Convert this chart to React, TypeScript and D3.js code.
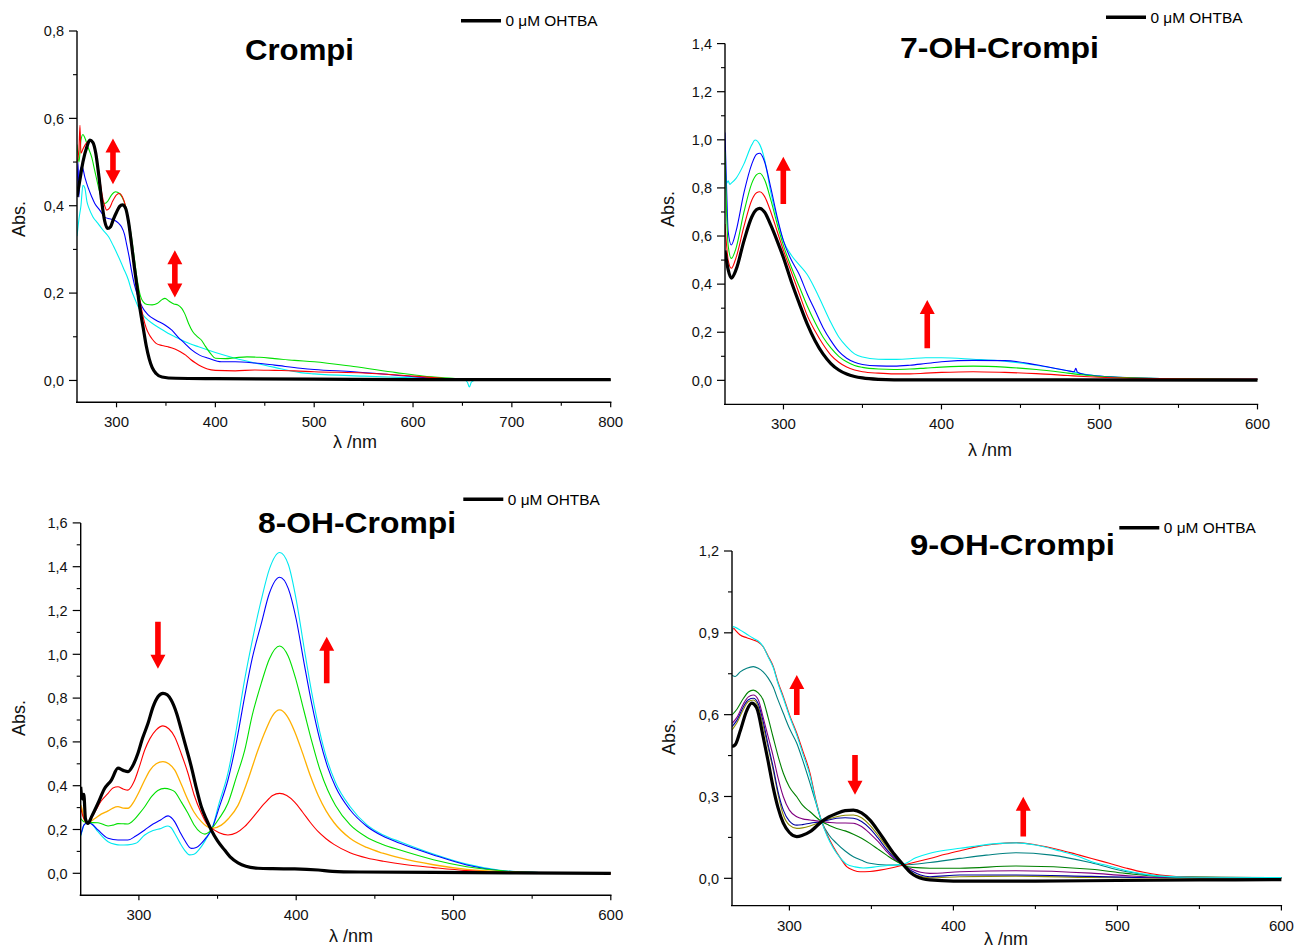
import React from "react";
import * as d3 from "d3";

type Pt = [number, number];

// ---------------- Crompi (panel a) ----------------
const crompiBlack: Pt[] = [[260,0.42],[263,0.46],[266,0.5],[270,0.535],[273,0.55],[276,0.545],[279,0.52],[282,0.47],[285,0.41],[288,0.365],[291,0.348],[294,0.352],[297,0.37],[300,0.385],[303,0.398],[306,0.402],[309,0.395],[312,0.365],[315,0.315],[318,0.26],[321,0.21],[324,0.16],[327,0.12],[330,0.08],[333,0.05],[336,0.03],[340,0.016],[346,0.008],[360,0.005],[400,0.004],[500,0.003],[600,0.002],[700,0.002],[800,0.002]];
const crompiRed: Pt[] = [[260,0.5],[262,0.53],[263,0.584],[264,0.52],[266,0.53],[270,0.545],[273,0.55],[276,0.545],[279,0.52],[282,0.48],[285,0.43],[288,0.4],[290,0.39],[293,0.395],[296,0.41],[300,0.425],[303,0.428],[306,0.42],[309,0.4],[312,0.36],[315,0.31],[318,0.26],[321,0.22],[324,0.18],[327,0.145],[330,0.12],[333,0.105],[336,0.095],[340,0.085],[346,0.08],[352,0.077],[359,0.072],[365,0.065],[370,0.058],[375,0.048],[380,0.04],[386,0.032],[392,0.026],[400,0.023],[420,0.022],[440,0.024],[460,0.023],[480,0.022],[500,0.02],[550,0.017],[600,0.01],[630,0.005],[650,0.002],[700,0.001],[800,0.001]];
const crompiGreen: Pt[] = [[260,0.54],[262,0.5],[264,0.55],[266,0.563],[268,0.555],[271,0.535],[275,0.51],[278,0.48],[282,0.44],[285,0.415],[288,0.405],[291,0.41],[295,0.425],[299,0.432],[303,0.428],[306,0.418],[309,0.4],[312,0.37],[315,0.33],[318,0.28],[321,0.23],[324,0.195],[327,0.18],[331,0.174],[336,0.173],[341,0.176],[346,0.185],[349,0.188],[353,0.182],[358,0.175],[362,0.173],[366,0.165],[369,0.153],[373,0.13],[377,0.112],[382,0.1],[386,0.092],[390,0.078],[395,0.062],[400,0.051],[410,0.05],[420,0.052],[432,0.054],[445,0.053],[460,0.05],[480,0.046],[500,0.043],[540,0.032],[583,0.018],[610,0.01],[640,0.005],[660,0.002],[700,0.001],[800,0.001]];
const crompiBlue: Pt[] = [[260,0.44],[261,0.5],[262,0.42],[263,0.48],[265,0.49],[268,0.465],[271,0.443],[275,0.42],[278,0.405],[283,0.39],[288,0.374],[293,0.37],[298,0.367],[302,0.36],[305,0.352],[308,0.335],[310,0.314],[313,0.28],[315,0.253],[318,0.22],[322,0.19],[326,0.168],[332,0.15],[340,0.138],[349,0.127],[356,0.115],[362,0.1],[369,0.085],[376,0.07],[384,0.058],[393,0.051],[406,0.043],[420,0.043],[440,0.04],[460,0.035],[486,0.028],[500,0.025],[540,0.02],[583,0.012],[620,0.005],[650,0.001],[800,0.001]];
const crompiCyan: Pt[] = [[260,0.33],[262,0.37],[264,0.4],[266,0.447],[268,0.44],[270,0.41],[272,0.395],[276,0.375],[281,0.36],[286,0.345],[292,0.329],[297,0.307],[302,0.283],[307,0.257],[312,0.23],[315,0.207],[319,0.184],[322,0.168],[326,0.152],[330,0.142],[336,0.131],[345,0.118],[352,0.108],[359,0.1],[370,0.088],[383,0.077],[400,0.064],[420,0.051],[440,0.04],[460,0.03],[486,0.018],[500,0.015],[550,0.01],[600,0.006],[640,0.002],[652,0.001],[655,-0.004],[657,-0.015],[659,-0.004],[662,0],[700,0],[800,0]];

// ---------------- 7-OH-Crompi (panel b) ----------------
const oh7Black: Pt[] = [[263,0.54],[265,0.46],[267,0.425],[270,0.46],[275,0.58],[280,0.68],[283,0.71],[285,0.715],[288,0.7],[292,0.645],[296,0.58],[300,0.51],[305,0.41],[310,0.32],[315,0.235],[320,0.165],[325,0.11],[330,0.07],[335,0.043],[340,0.026],[345,0.016],[350,0.01],[360,0.004],[370,0.002],[450,0.002],[600,0.001]];
const oh7Red: Pt[] = [[263,0.65],[265,0.5],[267,0.466],[270,0.51],[275,0.64],[280,0.75],[283,0.78],[285,0.784],[288,0.765],[292,0.7],[296,0.62],[300,0.54],[305,0.45],[310,0.36],[315,0.27],[320,0.205],[325,0.15],[330,0.105],[335,0.075],[340,0.055],[345,0.043],[350,0.036],[360,0.03],[370,0.027],[380,0.027],[390,0.03],[400,0.033],[420,0.036],[440,0.033],[460,0.028],[480,0.02],[490,0.016],[500,0.013],[520,0.009],[550,0.006],[600,0.005]];
const oh7Green: Pt[] = [[263,0.95],[264,0.7],[265,0.56],[267,0.507],[270,0.55],[275,0.7],[280,0.82],[283,0.855],[285,0.861],[288,0.835],[292,0.75],[296,0.65],[300,0.56],[305,0.47],[310,0.39],[315,0.31],[320,0.24],[325,0.18],[330,0.135],[335,0.1],[340,0.077],[345,0.062],[350,0.054],[360,0.047],[370,0.045],[380,0.047],[390,0.051],[400,0.055],[420,0.059],[440,0.055],[460,0.045],[480,0.03],[490,0.022],[500,0.016],[520,0.011],[550,0.007],[600,0.004]];
const oh7Blue: Pt[] = [[263,1.03],[264,0.8],[265,0.62],[267,0.563],[270,0.62],[275,0.78],[280,0.9],[283,0.94],[285,0.944],[288,0.91],[292,0.8],[296,0.68],[300,0.58],[305,0.5],[310,0.44],[315,0.36],[320,0.29],[325,0.22],[330,0.165],[335,0.12],[340,0.092],[345,0.075],[350,0.066],[360,0.06],[370,0.059],[380,0.063],[390,0.07],[400,0.077],[420,0.083],[440,0.082],[460,0.065],[480,0.04],[484,0.036],[485,0.05],[486,0.034],[490,0.025],[500,0.018],[520,0.011],[550,0.007],[600,0.005]];
const oh7Cyan: Pt[] = [[263,0.9],[264,0.82],[265,0.83],[266,0.815],[267,0.82],[270,0.84],[275,0.9],[280,0.98],[282,0.999],[285,0.98],[288,0.92],[292,0.78],[296,0.67],[300,0.58],[305,0.52],[310,0.48],[315,0.44],[320,0.38],[325,0.31],[330,0.24],[335,0.18],[340,0.14],[345,0.11],[350,0.097],[360,0.088],[370,0.087],[380,0.09],[390,0.094],[400,0.094],[420,0.088],[440,0.08],[460,0.063],[480,0.04],[490,0.026],[500,0.018],[520,0.011],[550,0.007],[600,0.005]];

// ---------------- 8-OH-Crompi (panel c) ----------------
const oh8Black: Pt[] = [[263,0.395],[264,0.34],[265,0.36],[266,0.25],[267.6,0.228],[270,0.26],[274,0.32],[278,0.385],[282.5,0.426],[286.7,0.48],[290,0.47],[293,0.464],[296,0.49],[299.4,0.548],[302,0.61],[305.8,0.685],[309,0.76],[312.1,0.806],[315.3,0.822],[318,0.815],[320.6,0.79],[324,0.73],[327,0.654],[330,0.575],[333.3,0.487],[336.5,0.39],[339.7,0.304],[343,0.245],[346,0.198],[350,0.148],[354.5,0.106],[358,0.075],[363,0.048],[368,0.032],[375.7,0.023],[385,0.021],[399,0.02],[414,0.015],[423,0.009],[440,0.006],[487,0.004],[540,0.002],[600,0]];
const oh8Red: Pt[] = [[263,0.3],[264,0.27],[265,0.25],[267.6,0.23],[272,0.28],[276,0.33],[280.4,0.365],[283.5,0.39],[286.7,0.395],[290,0.385],[293,0.38],[297,0.42],[300,0.48],[303.7,0.563],[307,0.615],[311,0.655],[315.3,0.673],[319,0.66],[322.7,0.624],[327,0.545],[331.2,0.457],[335,0.36],[339.7,0.274],[343,0.228],[346.5,0.205],[351,0.185],[356.6,0.175],[362,0.185],[367.2,0.213],[373,0.26],[380,0.32],[385,0.355],[389.5,0.365],[394,0.355],[399,0.325],[404,0.28],[409,0.232],[414,0.19],[419,0.158],[424,0.132],[434.2,0.094],[445,0.07],[455.4,0.055],[470,0.039],[487.2,0.026],[508.4,0.012],[529.6,0.004],[560,0.001],[600,0]];
const oh8Orange: Pt[] = [[263,0.312],[264,0.29],[265,0.25],[266,0.235],[267.6,0.232],[272,0.25],[276,0.27],[280.4,0.285],[283.5,0.298],[286.7,0.304],[290,0.298],[293,0.297],[297,0.33],[300,0.37],[303.7,0.426],[307,0.47],[311,0.5],[315.3,0.51],[319,0.5],[322.7,0.472],[327,0.405],[331.2,0.335],[335,0.28],[339.7,0.236],[343,0.215],[346.5,0.205],[352.4,0.22],[357,0.25],[363,0.31],[369,0.42],[375.7,0.563],[381,0.66],[385,0.72],[389.5,0.746],[394,0.72],[399,0.648],[404,0.55],[409,0.445],[414,0.355],[419,0.285],[424,0.232],[434.2,0.16],[444.8,0.118],[455,0.092],[466,0.07],[487.2,0.039],[508.4,0.018],[529.6,0.008],[560,0.002],[600,0]];
const oh8Green: Pt[] = [[263,0.25],[265,0.235],[267.6,0.232],[274,0.231],[280.4,0.216],[283.5,0.22],[286.7,0.227],[290,0.226],[293,0.225],[297,0.245],[300,0.27],[303.7,0.304],[308,0.35],[312,0.378],[316.4,0.388],[320,0.383],[322.7,0.373],[327,0.325],[331.2,0.274],[335,0.222],[339,0.188],[342,0.179],[344.5,0.188],[346.5,0.205],[351,0.25],[356.6,0.32],[362,0.44],[367.2,0.56],[372,0.72],[377.8,0.868],[383,0.98],[389.5,1.038],[395,0.99],[400,0.88],[405,0.74],[410,0.6],[415,0.475],[420,0.38],[425,0.31],[434.2,0.222],[444.8,0.165],[455,0.132],[466,0.106],[487.2,0.062],[508.4,0.03],[529.6,0.012],[550,0.004],[600,0]];
const oh8Blue: Pt[] = [[263,0.175],[264,0.2],[265,0.22],[267.6,0.232],[270,0.225],[274,0.198],[280.4,0.16],[286.7,0.152],[293,0.152],[298,0.17],[303.7,0.198],[309,0.225],[314,0.245],[318.5,0.262],[320.5,0.255],[322.7,0.236],[326,0.19],[329,0.152],[333.3,0.114],[336.5,0.118],[339.7,0.137],[343,0.165],[346.5,0.205],[351,0.3],[356.6,0.426],[362,0.6],[367.2,0.806],[372,0.98],[377.8,1.14],[383,1.28],[389.5,1.352],[395,1.3],[400,1.16],[405,0.96],[410,0.77],[415,0.61],[420,0.485],[425,0.395],[434.2,0.29],[444.8,0.215],[455,0.17],[466,0.137],[487.2,0.084],[508.4,0.038],[529.6,0.012],[550,0.004],[600,0]];
const oh8Cyan: Pt[] = [[263,0.17],[264,0.195],[265,0.22],[267.6,0.232],[270,0.225],[274,0.19],[280.4,0.144],[285,0.132],[288,0.129],[293,0.13],[298,0.137],[303.7,0.175],[309,0.195],[314,0.205],[318.5,0.216],[320.5,0.208],[322.7,0.183],[326,0.14],[329,0.106],[332.2,0.084],[335,0.087],[339.7,0.122],[343,0.16],[346.5,0.205],[351,0.32],[356.6,0.457],[362,0.66],[367.2,0.883],[372,1.06],[377.8,1.248],[383,1.39],[389.5,1.465],[395,1.41],[400,1.25],[405,1.03],[410,0.82],[415,0.645],[420,0.51],[425,0.415],[434.2,0.305],[444.8,0.222],[455,0.176],[466,0.144],[487.2,0.088],[508.4,0.042],[529.6,0.014],[550,0.004],[600,0]];

// ---------------- 9-OH-Crompi (panel d) ----------------
const oh9Black: Pt[] = [[265,0.483],[267,0.49],[270,0.54],[274,0.615],[277,0.642],[280,0.625],[284,0.519],[287,0.43],[290,0.336],[293,0.26],[296.3,0.202],[300,0.168],[304.5,0.153],[308,0.158],[312.6,0.171],[319.7,0.208],[324,0.225],[328.8,0.238],[334,0.248],[339,0.25],[344,0.24],[349,0.214],[354,0.175],[359.3,0.128],[364,0.088],[369.5,0.049],[374,0.02],[377.6,0.006],[385.7,-0.006],[400,-0.01],[450,-0.01],[500,-0.008],[550,-0.006],[600,-0.005]];
const oh9Olive: Pt[] = [[265,0.544],[268,0.57],[272,0.62],[275,0.648],[278,0.654],[281,0.63],[284,0.56],[287,0.48],[290,0.4],[293,0.31],[296.3,0.232],[300,0.195],[304.5,0.183],[308,0.185],[312.6,0.192],[319.7,0.208],[324,0.218],[328.8,0.226],[334,0.231],[339,0.232],[344,0.222],[349,0.195],[354,0.158],[359.3,0.116],[364,0.08],[369.5,0.049],[374,0.024],[378,0.01],[385.7,0.002],[404,0.006],[438,0.008],[484,0.003],[520,0.001],[600,0]];
const oh9Navy: Pt[] = [[265,0.556],[268,0.58],[272,0.63],[275,0.655],[278,0.66],[281,0.64],[284,0.575],[287,0.49],[290,0.41],[293,0.32],[296.3,0.25],[300,0.21],[304.5,0.195],[308,0.197],[312.6,0.202],[319.7,0.208],[324,0.214],[328.8,0.22],[334,0.222],[339,0.22],[344,0.208],[349,0.183],[354,0.148],[359.3,0.106],[364,0.075],[369.5,0.049],[375,0.026],[380,0.012],[385.7,0.006],[404,0.012],[438,0.012],[484,0.007],[520,0.003],[600,0.002]];
const oh9Purple: Pt[] = [[265,0.568],[268,0.59],[272,0.64],[275,0.665],[278,0.672],[281,0.655],[284,0.59],[287,0.52],[290,0.45],[293,0.37],[296.3,0.299],[300,0.25],[304.5,0.226],[308,0.218],[312.6,0.214],[319.7,0.208],[324,0.205],[328.8,0.203],[334,0.203],[339,0.202],[344,0.19],[349,0.165],[354,0.135],[359.3,0.098],[364,0.07],[369.5,0.049],[375,0.032],[380,0.022],[385.7,0.018],[404,0.024],[438,0.028],[484,0.019],[505,0.01],[526,0.004],[600,0.002]];
const oh9Green: Pt[] = [[265,0.599],[268,0.62],[272,0.66],[275,0.683],[278,0.69],[281,0.68],[284,0.654],[287,0.59],[290,0.519],[293,0.45],[296.3,0.385],[300,0.335],[304.5,0.299],[308,0.268],[312.6,0.244],[319.7,0.208],[324,0.195],[328.8,0.183],[334,0.174],[339,0.162],[344,0.147],[349,0.128],[354,0.107],[359.3,0.085],[364,0.066],[369.5,0.049],[375,0.04],[385.7,0.037],[404,0.037],[438,0.045],[484,0.033],[505,0.018],[526,0.007],[600,0.002]];
const oh9Teal: Pt[] = [[265,0.745],[267,0.74],[270,0.757],[274,0.77],[278,0.776],[281,0.77],[284,0.757],[287,0.735],[290,0.703],[293,0.655],[296.3,0.605],[300,0.55],[304.5,0.495],[308,0.435],[312.6,0.348],[316,0.28],[319.7,0.208],[324,0.16],[328.8,0.128],[334,0.1],[339,0.079],[344,0.066],[349,0.055],[359,0.049],[369.5,0.049],[385.7,0.058],[404,0.073],[420,0.085],[438,0.094],[460,0.085],[484,0.057],[505,0.025],[526,0.008],[550,0.003],[600,0.002]];
const oh9Red: Pt[] = [[265,0.9],[266,0.917],[267,0.91],[270,0.892],[274,0.882],[278,0.874],[281,0.866],[284,0.849],[287,0.815],[290.2,0.776],[293,0.72],[296.3,0.666],[300,0.6],[304.5,0.532],[308,0.47],[312.6,0.385],[316,0.29],[319.7,0.208],[323,0.16],[326.8,0.116],[331,0.075],[334.9,0.043],[339,0.03],[343.1,0.024],[349,0.025],[355.2,0.03],[362,0.038],[369.5,0.049],[377,0.06],[385.7,0.073],[395,0.088],[406,0.104],[416,0.118],[428,0.127],[438.6,0.131],[450,0.123],[465,0.104],[475,0.088],[484.3,0.073],[495,0.055],[505.7,0.037],[516,0.022],[526,0.012],[546,0.004],[600,0.003]];
const oh9Cyan: Pt[] = [[265,0.9],[265.8,0.923],[267,0.92],[270,0.91],[274,0.895],[278,0.88],[281,0.87],[284,0.85],[287,0.812],[290.2,0.772],[293,0.715],[296.3,0.66],[300,0.595],[304.5,0.525],[308,0.46],[312.6,0.375],[316,0.285],[319.7,0.208],[323,0.155],[326.8,0.11],[331,0.075],[334.9,0.052],[340,0.042],[345,0.038],[350,0.04],[355,0.044],[362,0.048],[369.5,0.052],[377,0.075],[385.7,0.092],[395,0.103],[404,0.11],[416,0.12],[428,0.128],[438,0.13],[450,0.122],[465,0.1],[475,0.083],[484,0.062],[495,0.045],[505.7,0.028],[516,0.016],[526,0.008],[546,0.004],[600,0.003]];

// tick values
const crompiYTicks = [0, 0.2, 0.4, 0.6, 0.8];
const crompiXTicks = [300, 400, 500, 600, 700, 800];
const oh7YTicks = [0, 0.2, 0.4, 0.6, 0.8, 1.0, 1.2, 1.4];
const oh8YTicks = [0, 0.2, 0.4, 0.6, 0.8, 1.0, 1.2, 1.4, 1.6];
const oh9YTicks = [0, 0.3, 0.6, 0.9, 1.2];
const shortXTicks = [300, 400, 500, 600];
const legendLabel = "0 \u03bcM OHTBA";

const FONT = "'Liberation Sans', Arial, Helvetica, sans-serif";

interface SeriesDef { pts: Pt[]; color: string; w: number }
interface ArrowDef { nm: number; top: number; bottom: number; kind: "up" | "down" | "both" }
interface PanelDef {
  id: string;
  left: number; right: number; top: number; bottom: number;
  xDomain: [number, number]; yDomain: [number, number];
  yTicks: number[]; yMinorStep: number; xTicks: number[]; xMinorStep: number;
  series: SeriesDef[];
  title: string; titleX: number; titleY: number; titleLen: number;
  legendX: number; legendY: number;
  absX: number; absY: number;
  lamX: number; lamY: number;
  arrows: ArrowDef[];
}

const panels: PanelDef[] = [
  {
    id: "a", left: 77, right: 610.7, top: 31, bottom: 402.3,
    xDomain: [260, 800], yDomain: [-0.05, 0.8],
    yTicks: crompiYTicks, yMinorStep: 0.1, xTicks: crompiXTicks, xMinorStep: 50,
    series: [
      { pts: crompiCyan, color: "#00f0f0", w: 1.1 },
      { pts: crompiBlue, color: "#0000ff", w: 1.1 },
      { pts: crompiGreen, color: "#00e000", w: 1.1 },
      { pts: crompiRed, color: "#ff0000", w: 1.1 },
      { pts: crompiBlack, color: "#000000", w: 3.2 },
    ],
    title: "Crompi", titleX: 245, titleY: 60, titleLen: 109,
    legendX: 461, legendY: 20.7,
    absX: 19, absY: 219, lamX: 355, lamY: 448,
    arrows: [
      { nm: 296.4, top: 0.554, bottom: 0.449, kind: "both" },
      { nm: 359, top: 0.298, bottom: 0.19, kind: "both" },
    ],
  },
  {
    id: "b", left: 725, right: 1257.5, top: 43.6, bottom: 404.4,
    xDomain: [263, 600], yDomain: [-0.1, 1.4],
    yTicks: oh7YTicks, yMinorStep: 0.1, xTicks: shortXTicks, xMinorStep: 50,
    series: [
      { pts: oh7Cyan, color: "#00f0f0", w: 1.1 },
      { pts: oh7Blue, color: "#0000ff", w: 1.1 },
      { pts: oh7Green, color: "#00e000", w: 1.1 },
      { pts: oh7Red, color: "#ff0000", w: 1.1 },
      { pts: oh7Black, color: "#000000", w: 3.2 },
    ],
    title: "7-OH-Crompi", titleX: 900, titleY: 58, titleLen: 199,
    legendX: 1106, legendY: 17.3,
    absX: 667.5, absY: 209, lamX: 990, lamY: 456,
    arrows: [
      { nm: 299.9, top: 0.93, bottom: 0.733, kind: "up" },
      { nm: 391, top: 0.334, bottom: 0.133, kind: "up" },
    ],
  },
  {
    id: "c", left: 80.7, right: 610.8, top: 522.9, bottom: 895.2,
    xDomain: [263, 600], yDomain: [-0.1, 1.6],
    yTicks: oh8YTicks, yMinorStep: 0.1, xTicks: shortXTicks, xMinorStep: 50,
    series: [
      { pts: oh8Cyan, color: "#00e8f0", w: 1.1 },
      { pts: oh8Blue, color: "#0000ff", w: 1.1 },
      { pts: oh8Green, color: "#00e000", w: 1.1 },
      { pts: oh8Orange, color: "#ffb000", w: 1.3 },
      { pts: oh8Red, color: "#ff0000", w: 1.1 },
      { pts: oh8Black, color: "#000000", w: 3.2 },
    ],
    title: "8-OH-Crompi", titleX: 258, titleY: 533, titleLen: 198,
    legendX: 463.3, legendY: 499.3,
    absX: 19, absY: 718, lamX: 351, lamY: 941.7,
    arrows: [
      { nm: 312.1, top: 1.149, bottom: 0.934, kind: "down" },
      { nm: 419.4, top: 1.08, bottom: 0.868, kind: "up" },
    ],
  },
  {
    id: "d", left: 732, right: 1281.4, top: 551, bottom: 905.6,
    xDomain: [265, 600], yDomain: [-0.1, 1.2],
    yTicks: oh9YTicks, yMinorStep: 0.15, xTicks: shortXTicks, xMinorStep: 50,
    series: [
      { pts: oh9Olive, color: "#8c8c00", w: 1.1 },
      { pts: oh9Navy, color: "#0000a0", w: 1.1 },
      { pts: oh9Purple, color: "#800080", w: 1.1 },
      { pts: oh9Green, color: "#008000", w: 1.1 },
      { pts: oh9Teal, color: "#008080", w: 1.1 },
      { pts: oh9Red, color: "#ff0000", w: 1.1 },
      { pts: oh9Cyan, color: "#00f0f0", w: 1.1 },
      { pts: oh9Black, color: "#000000", w: 3.2 },
    ],
    title: "9-OH-Crompi", titleX: 910, titleY: 555, titleLen: 205,
    legendX: 1119.3, legendY: 527.7,
    absX: 669, absY: 737, lamX: 1006, lamY: 945,
    arrows: [
      { nm: 304.5, top: 0.745, bottom: 0.599, kind: "up" },
      { nm: 340, top: 0.452, bottom: 0.306, kind: "down" },
      { nm: 442.6, top: 0.299, bottom: 0.153, kind: "up" },
    ],
  },
];

const fmt = (v: number) => d3.format(".1f")(v).replace(".", ",");

function arrowPath(cx: number, yTop: number, yBot: number, kind: string): string {
  const hw = 7.5, hl = 14, sw = 2.8;
  const up = kind === "up" || kind === "both";
  const down = kind === "down" || kind === "both";
  const sTop = up ? yTop + hl : yTop;
  const sBot = down ? yBot - hl : yBot;
  const p: [number, number][] = [];
  if (up) { p.push([cx, yTop], [cx + hw, sTop], [cx + sw, sTop]); } else { p.push([cx + sw, yTop]); }
  if (down) { p.push([cx + sw, sBot], [cx + hw, sBot], [cx, yBot], [cx - hw, sBot], [cx - sw, sBot]); } else { p.push([cx + sw, yBot], [cx - sw, yBot]); }
  if (up) { p.push([cx - sw, sTop], [cx - hw, sTop]); } else { p.push([cx - sw, yTop]); }
  return "M" + p.map((q) => q.join(",")).join("L") + "Z";
}

function Panel({ d }: { d: PanelDef }) {
  const x = d3.scaleLinear().domain(d.xDomain).range([d.left, d.right]);
  const y = d3.scaleLinear().domain(d.yDomain).range([d.bottom, d.top]);
  const line = d3.line<Pt>().x((p) => x(p[0])).y((p) => y(p[1])).curve(d3.curveMonotoneX);
  const yMinor = d3.range(0, d.yDomain[1] + 1e-9, d.yMinorStep).filter((v) => !d.yTicks.some((t) => Math.abs(t - v) < 1e-6));
  const xMinor = d3.range(Math.ceil(d.xDomain[0] / d.xMinorStep) * d.xMinorStep, d.xDomain[1] + 1e-9, d.xMinorStep).filter((v) => !d.xTicks.includes(v));
  const clipId = "clip-" + d.id;
  return (
    <g>
      <defs>
        <clipPath id={clipId}>
          <rect x={d.left} y={d.top - 20} width={d.right - d.left + 2} height={d.bottom - d.top + 20} />
        </clipPath>
      </defs>
      <g clipPath={`url(#${clipId})`} fill="none" strokeLinejoin="round">
        {d.series.map((s, i) => (
          <path key={i} d={line(s.pts) || ""} stroke={s.color} strokeWidth={s.w} />
        ))}
      </g>
      {/* axes */}
      <line x1={d.left} x2={d.left} y1={d.top} y2={d.bottom} stroke="#000" strokeWidth={1.4} />
      <line x1={d.left - 1} x2={d.right + 0.7} y1={d.bottom} y2={d.bottom} stroke="#000" strokeWidth={1.4} />
      {d.yTicks.map((t) => (
        <g key={"y" + t}>
          <line x1={d.left - 8} x2={d.left} y1={y(t)} y2={y(t)} stroke="#000" strokeWidth={1.2} />
          <text x={d.left - 13} y={y(t)} dy="0.36em" textAnchor="end" fontFamily={FONT} fontSize={14.5} fill="#111">{fmt(t)}</text>
        </g>
      ))}
      {yMinor.map((t) => (
        <line key={"ym" + t} x1={d.left - 4} x2={d.left} y1={y(t)} y2={y(t)} stroke="#000" strokeWidth={1.1} />
      ))}
      {d.xTicks.map((t) => (
        <g key={"x" + t}>
          <line x1={x(t)} x2={x(t)} y1={d.bottom} y2={d.bottom + 5} stroke="#000" strokeWidth={1.2} />
          <text x={x(t)} y={d.bottom + 25} textAnchor="middle" fontFamily={FONT} fontSize={15} fill="#111">{t}</text>
        </g>
      ))}
      {xMinor.map((t) => (
        <line key={"xm" + t} x1={x(t)} x2={x(t)} y1={d.bottom} y2={d.bottom + 3.5} stroke="#000" strokeWidth={1.1} />
      ))}
      {/* axis titles */}
      <text transform={`translate(${d.absX},${d.absY}) rotate(-90)`} dy="0.35em" textAnchor="middle" fontFamily={FONT} fontSize={18} fill="#111">Abs.</text>
      <text x={d.lamX} y={d.lamY} textAnchor="middle" fontFamily={FONT} fontSize={18} fill="#111">{"\u03bb /nm"}</text>
      {/* title */}
      <text x={d.titleX} y={d.titleY} fontFamily={FONT} fontWeight="bold" fontSize={29.5} fill="#000" textLength={d.titleLen} lengthAdjust="spacingAndGlyphs">{d.title}</text>
      {/* legend */}
      <line x1={d.legendX} x2={d.legendX + 40} y1={d.legendY} y2={d.legendY} stroke="#000" strokeWidth={3.4} />
      <text x={d.legendX + 44.5} y={d.legendY + 5.5} fontFamily={FONT} fontSize={14.5} fill="#000" textLength={92} lengthAdjust="spacingAndGlyphs">{legendLabel}</text>
      {/* arrows */}
      {d.arrows.map((a, i) => (
        <path key={"a" + i} d={arrowPath(x(a.nm), y(a.top), y(a.bottom), a.kind)} fill="#ff0000" stroke="none" />
      ))}
    </g>
  );
}

export default function App() {
  return (
    <svg width={1298} height={948} style={{ position: "absolute", left: 0, top: 0, background: "#fff" }}>
      <rect x={0} y={0} width={1298} height={948} fill="#fff" />
      {panels.map((p) => (
        <Panel key={p.id} d={p} />
      ))}
    </svg>
  );
}
